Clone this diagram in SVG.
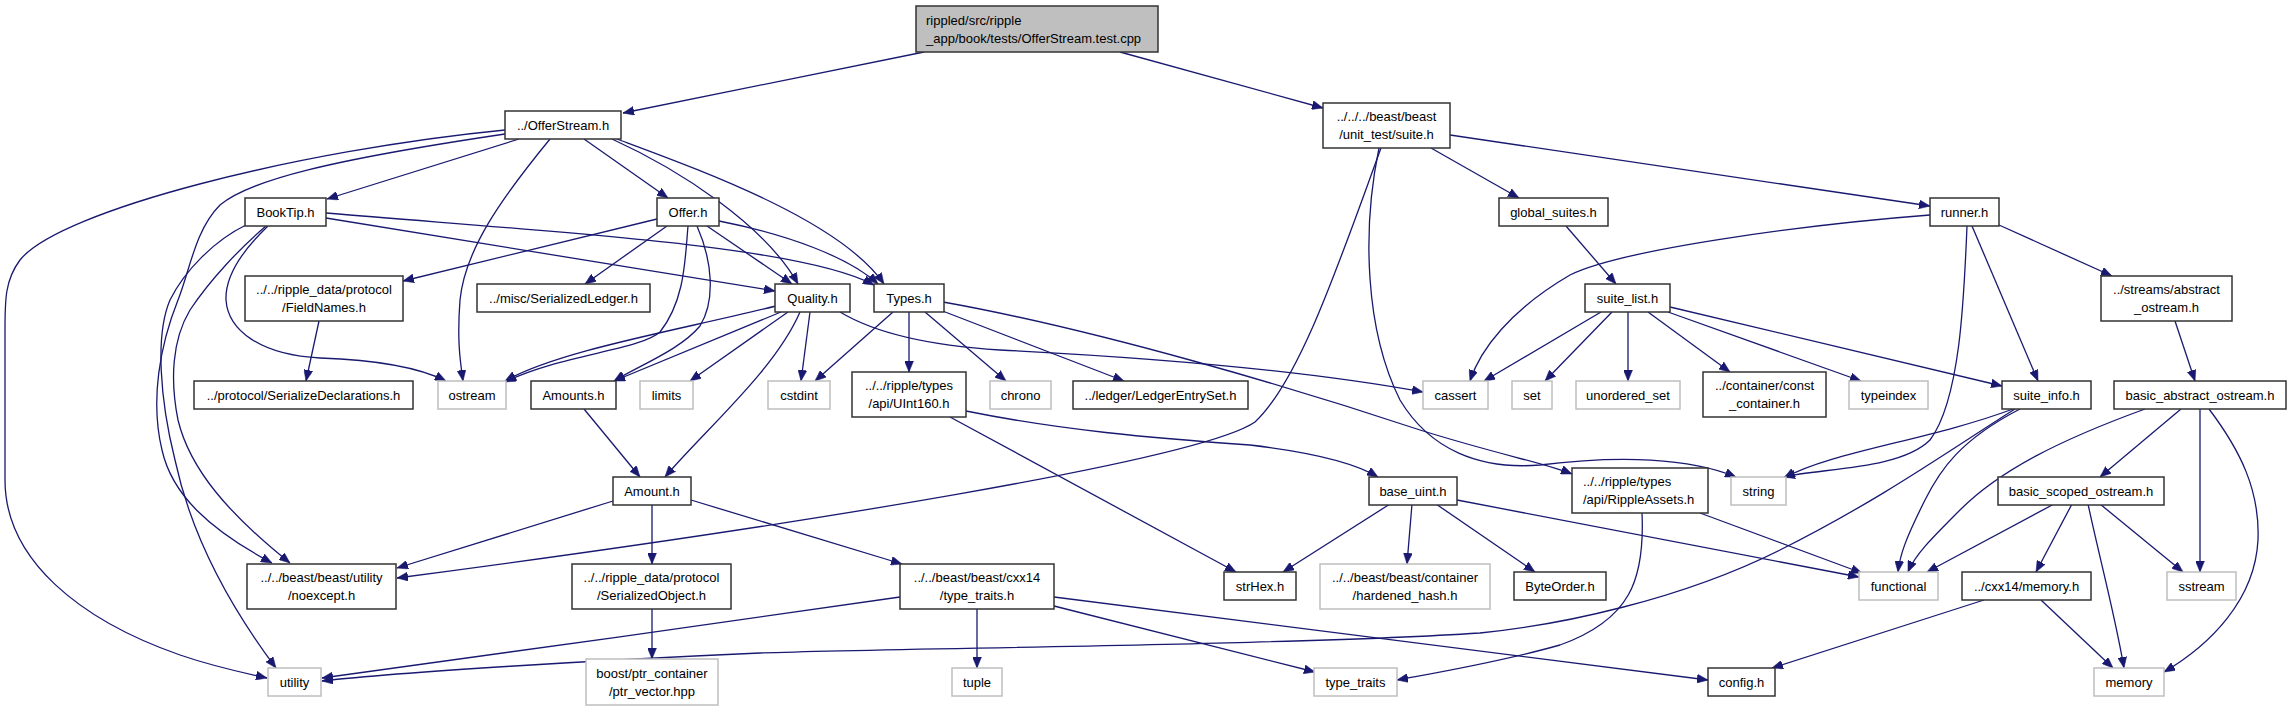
<svg xmlns="http://www.w3.org/2000/svg" width="2291" height="712" viewBox="0 0 2291 712">
<style>
.n{fill:#fff;stroke:#333;stroke-width:1.5}
.g{fill:#fff;stroke:#bfbfbf;stroke-width:1.5}
.r{fill:#bfbfbf;stroke:#333;stroke-width:1.5}
text{font-family:"Liberation Sans",Arial,sans-serif;font-size:13px;fill:#000;text-anchor:middle}
text.l{text-anchor:start}
#edges path{fill:none;stroke:#191970;stroke-width:1.3;marker-end:url(#a)}
</style>
<defs>
<marker id="a" viewBox="0 0 11 9" markerWidth="11" markerHeight="9" refX="11" refY="4.5" orient="auto" markerUnits="userSpaceOnUse">
<path d="M0,0 L11,4.5 L0,9 z" fill="#191970" stroke="#191970" stroke-width="0.5"/>
</marker>
</defs>
<rect width="2291" height="712" fill="#fff"/>
<g id="edges">
<path d="M924,52 L623,113"/>
<path d="M1120,52 L1323,108"/>
<path d="M519,139 L327,199"/>
<path d="M584,139 L668,198"/>
<path d="M550,139 C500,200 465,250 460,300 C457,340 460,360 463,381"/>
<path d="M612,139 C680,170 765,225 798,284"/>
<path d="M617,139 C700,170 840,220 884,284"/>
<path d="M505,130 C300,150 60,210 20,260 C5,280 5,300 5,330 L5,480 C5,560 80,620 180,655 C215,667 240,672 267,678"/>
<path d="M505,134 C330,160 250,180 220,205 C195,230 190,270 178,300 C160,345 150,400 162,450 C172,495 210,530 272,563"/>
<path d="M326,218 L775,291"/>
<path d="M326,213 C550,232 800,245 874,285"/>
<path d="M268,226 C245,248 225,275 226,300 C228,330 260,355 320,358 C380,360 420,368 446,381"/>
<path d="M266,226 C240,248 210,280 190,310 C172,340 170,380 178,420 C190,470 230,515 290,563"/>
<path d="M246,225 C215,240 185,270 170,300 C155,335 160,400 175,460 C190,530 225,600 276,668"/>
<path d="M657,219 L403,281"/>
<path d="M667,226 L585,284"/>
<path d="M707,226 L792,284"/>
<path d="M719,221 C790,235 850,258 878,284"/>
<path d="M688,226 C685,260 685,300 660,332 C640,350 560,355 505,382"/>
<path d="M697,226 C712,260 716,300 700,326 C680,350 640,365 614,381"/>
<path d="M776,306 C680,330 560,350 505,381"/>
<path d="M781,312 L614,381"/>
<path d="M788,312 L690,381"/>
<path d="M810,312 L801,381"/>
<path d="M800,312 C775,370 705,430 665,477"/>
<path d="M840,312 C870,330 920,345 1000,350 C1200,360 1330,375 1423,392"/>
<path d="M893,312 L815,381"/>
<path d="M909,312 L909,372"/>
<path d="M925,312 L1006,381"/>
<path d="M940,310 L1124,381"/>
<path d="M943,302 C1100,330 1300,390 1420,430 C1500,455 1545,463 1572,474"/>
<path d="M966,411 C1060,430 1150,438 1250,445 C1310,452 1355,463 1378,477"/>
<path d="M950,417 L1236,572"/>
<path d="M1431,148 L1519,198"/>
<path d="M1450,135 L1930,206"/>
<path d="M1381,148 C1340,260 1300,380 1255,422 C1200,460 800,525 397,578"/>
<path d="M1379,148 C1362,230 1365,330 1400,400 C1430,450 1480,470 1540,465 C1620,455 1690,458 1736,477"/>
<path d="M1930,215 C1800,225 1620,250 1570,275 C1510,310 1480,350 1470,381"/>
<path d="M1972,226 L2038,381"/>
<path d="M1967,226 C1964,300 1960,400 1930,440 C1900,470 1820,468 1784,477"/>
<path d="M1999,225 L2112,276"/>
<path d="M1566,226 L1616,284"/>
<path d="M1601,312 L1484,381"/>
<path d="M1612,312 L1545,381"/>
<path d="M1628,312 L1628,381"/>
<path d="M1648,312 L1730,372"/>
<path d="M1668,312 L1861,381"/>
<path d="M1670,307 L2002,386"/>
<path d="M2175,321 L2195,381"/>
<path d="M2013,409 C1930,440 1830,452 1784,478"/>
<path d="M2020,409 C1960,440 1940,470 1925,500 C1905,540 1900,555 1898,572"/>
<path d="M2015,409 C1950,450 1880,500 1780,550 C1680,600 1560,625 1480,633 C1300,645 900,648 760,653 C600,660 400,672 322,681"/>
<path d="M2145,409 C2060,440 2000,470 1960,510 C1930,540 1915,555 1908,572"/>
<path d="M2181,409 L2100,477"/>
<path d="M2200,409 L2200,572"/>
<path d="M2209,409 C2240,450 2260,490 2258,540 C2255,600 2210,645 2164,672"/>
<path d="M2054,504 L1927,572"/>
<path d="M2072,504 L2036,572"/>
<path d="M2088,504 C2100,560 2115,615 2124,668"/>
<path d="M2100,504 L2183,572"/>
<path d="M1984,600 L1772,668"/>
<path d="M2041,600 L2113,668"/>
<path d="M1390,504 L1283,572"/>
<path d="M1412,504 L1407,564"/>
<path d="M1436,504 L1535,572"/>
<path d="M1457,500 L1859,577"/>
<path d="M1700,513 L1862,573"/>
<path d="M1642,513 C1645,580 1630,620 1560,645 C1500,662 1440,672 1397,680"/>
<path d="M584,409 L640,477"/>
<path d="M613,501 L397,568"/>
<path d="M652,504 L652,564"/>
<path d="M691,500 L902,564"/>
<path d="M652,609 L652,659"/>
<path d="M900,597 C760,618 450,660 322,678"/>
<path d="M977,609 L977,668"/>
<path d="M1054,606 L1315,672"/>
<path d="M1054,597 L1708,680"/>
<path d="M319,321 L306,381"/>
</g>
<g id="n_top"><rect class="r" x="916" y="6" width="242" height="46"/><text class="l" x="926" y="24.5">rippled/src/ripple</text><text class="l" x="926" y="42.5">_app/book/tests/OfferStream.test.cpp</text></g>
<g id="n_offerstream"><rect class="n" x="505" y="111" width="116" height="28"/><text x="563" y="129.5">../OfferStream.h</text></g>
<g id="n_suite"><rect class="n" x="1323" y="103" width="127" height="45"/><text x="1386.5" y="121">../../../beast/beast</text><text x="1386.5" y="139">/unit_test/suite.h</text></g>
<g id="n_booktip"><rect class="n" x="245" y="198" width="81" height="28"/><text x="285.5" y="216.5">BookTip.h</text></g>
<g id="n_offer"><rect class="n" x="657" y="198" width="62" height="28"/><text x="688" y="216.5">Offer.h</text></g>
<g id="n_global_suites"><rect class="n" x="1499" y="198" width="109" height="28"/><text x="1553.5" y="216.5">global_suites.h</text></g>
<g id="n_runner"><rect class="n" x="1930" y="198" width="69" height="28"/><text x="1964.5" y="216.5">runner.h</text></g>
<g id="n_fieldnames"><rect class="n" x="245" y="276" width="158" height="45"/><text x="324" y="294">../../ripple_data/protocol</text><text x="324" y="312">/FieldNames.h</text></g>
<g id="n_serializedledger"><rect class="n" x="477" y="284" width="173" height="28"/><text x="563.5" y="302.5">../misc/SerializedLedger.h</text></g>
<g id="n_quality"><rect class="n" x="775" y="284" width="75" height="28"/><text x="812.5" y="302.5">Quality.h</text></g>
<g id="n_types"><rect class="n" x="874" y="284" width="70" height="28"/><text x="909" y="302.5">Types.h</text></g>
<g id="n_suite_list"><rect class="n" x="1585" y="284" width="85" height="28"/><text x="1627.5" y="302.5">suite_list.h</text></g>
<g id="n_abstract_ostream"><rect class="n" x="2101" y="276" width="131" height="45"/><text x="2166.5" y="294">../streams/abstract</text><text x="2166.5" y="312">_ostream.h</text></g>
<g id="n_serializedecl"><rect class="n" x="194" y="381" width="219" height="28"/><text x="303.5" y="399.5">../protocol/SerializeDeclarations.h</text></g>
<g id="n_ostream"><rect class="g" x="438" y="381" width="68" height="28"/><text x="472" y="399.5">ostream</text></g>
<g id="n_amounts"><rect class="n" x="531" y="381" width="85" height="28"/><text x="573.5" y="399.5">Amounts.h</text></g>
<g id="n_limits"><rect class="g" x="640" y="381" width="53" height="28"/><text x="666.5" y="399.5">limits</text></g>
<g id="n_cstdint"><rect class="g" x="768" y="381" width="62" height="28"/><text x="799" y="399.5">cstdint</text></g>
<g id="n_uint160"><rect class="n" x="852" y="372" width="114" height="45"/><text x="909" y="390">../../ripple/types</text><text x="909" y="408">/api/UInt160.h</text></g>
<g id="n_chrono"><rect class="g" x="990" y="381" width="61" height="28"/><text x="1020.5" y="399.5">chrono</text></g>
<g id="n_ledgerentryset"><rect class="n" x="1073" y="381" width="175" height="28"/><text x="1160.5" y="399.5">../ledger/LedgerEntrySet.h</text></g>
<g id="n_cassert"><rect class="g" x="1423" y="381" width="65" height="28"/><text x="1455.5" y="399.5">cassert</text></g>
<g id="n_set"><rect class="g" x="1512" y="381" width="40" height="28"/><text x="1532" y="399.5">set</text></g>
<g id="n_unordered_set"><rect class="g" x="1576" y="381" width="104" height="28"/><text x="1628" y="399.5">unordered_set</text></g>
<g id="n_const_container"><rect class="n" x="1703" y="372" width="123" height="45"/><text x="1764.5" y="390">../container/const</text><text x="1764.5" y="408">_container.h</text></g>
<g id="n_typeindex"><rect class="g" x="1849" y="381" width="79" height="28"/><text x="1888.5" y="399.5">typeindex</text></g>
<g id="n_suite_info"><rect class="n" x="2002" y="381" width="89" height="28"/><text x="2046.5" y="399.5">suite_info.h</text></g>
<g id="n_basic_abstract"><rect class="n" x="2114" y="381" width="172" height="28"/><text x="2200" y="399.5">basic_abstract_ostream.h</text></g>
<g id="n_amount"><rect class="n" x="613" y="477" width="78" height="28"/><text x="652" y="495.5">Amount.h</text></g>
<g id="n_rippleassets"><rect class="n" x="1572" y="468" width="136" height="45"/><text class="l" x="1583" y="486">../../ripple/types</text><text class="l" x="1583" y="504">/api/RippleAssets.h</text></g>
<g id="n_string"><rect class="g" x="1731" y="477" width="55" height="28"/><text x="1758.5" y="495.5">string</text></g>
<g id="n_basic_scoped"><rect class="n" x="1998" y="477" width="166" height="28"/><text x="2081" y="495.5">basic_scoped_ostream.h</text></g>
<g id="n_base_uint"><rect class="n" x="1369" y="477" width="88" height="28"/><text x="1413" y="495.5">base_uint.h</text></g>
<g id="n_noexcept"><rect class="n" x="247" y="564" width="149" height="45"/><text x="321.5" y="582">../../beast/beast/utility</text><text x="321.5" y="600">/noexcept.h</text></g>
<g id="n_serializedobject"><rect class="n" x="572" y="564" width="159" height="45"/><text x="651.5" y="582">../../ripple_data/protocol</text><text x="651.5" y="600">/SerializedObject.h</text></g>
<g id="n_cxx14_type_traits"><rect class="n" x="900" y="564" width="154" height="45"/><text x="977" y="582">../../beast/beast/cxx14</text><text x="977" y="600">/type_traits.h</text></g>
<g id="n_strhex"><rect class="n" x="1224" y="572" width="72" height="28"/><text x="1260" y="590.5">strHex.h</text></g>
<g id="n_hardened_hash"><rect class="g" x="1320" y="564" width="170" height="45"/><text x="1405" y="582">../../beast/beast/container</text><text x="1405" y="600">/hardened_hash.h</text></g>
<g id="n_byteorder"><rect class="n" x="1514" y="572" width="92" height="28"/><text x="1560" y="590.5">ByteOrder.h</text></g>
<g id="n_functional"><rect class="g" x="1859" y="572" width="79" height="28"/><text x="1898.5" y="590.5">functional</text></g>
<g id="n_cxx14_memory"><rect class="n" x="1962" y="572" width="129" height="28"/><text x="2026.5" y="590.5">../cxx14/memory.h</text></g>
<g id="n_sstream"><rect class="g" x="2167" y="572" width="69" height="28"/><text x="2201.5" y="590.5">sstream</text></g>
<g id="n_utility"><rect class="g" x="268" y="668" width="53" height="28"/><text x="294.5" y="686.5">utility</text></g>
<g id="n_ptr_vector"><rect class="g" x="586" y="659" width="132" height="46"/><text x="652" y="677.5">boost/ptr_container</text><text x="652" y="695.5">/ptr_vector.hpp</text></g>
<g id="n_tuple"><rect class="g" x="952" y="668" width="50" height="28"/><text x="977" y="686.5">tuple</text></g>
<g id="n_type_traits"><rect class="g" x="1314" y="668" width="83" height="28"/><text x="1355.5" y="686.5">type_traits</text></g>
<g id="n_config"><rect class="n" x="1708" y="668" width="67" height="28"/><text x="1741.5" y="686.5">config.h</text></g>
<g id="n_memory"><rect class="g" x="2094" y="668" width="70" height="28"/><text x="2129" y="686.5">memory</text></g>
</svg>
